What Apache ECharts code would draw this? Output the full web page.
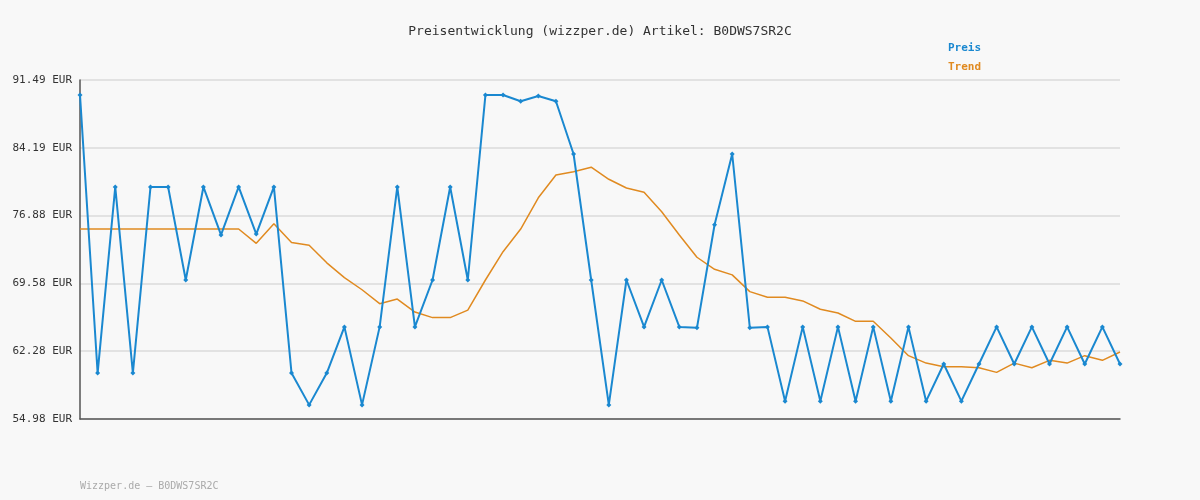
<!DOCTYPE html>
<html><head><meta charset="utf-8">
<script src="https://cdn.jsdelivr.net/npm/echarts@6/dist/echarts.min.js"></script>
<style>html,body{margin:0;padding:0;background:#f8f8f8}#c{width:1200px;height:500px}</style>
</head><body><div id="c"></div>
<script>
const categories = Array.from({length:60},(_,i)=>String(i+1));
const preis = [89.87,59.93,79.97,59.93,79.97,79.97,69.95,79.97,74.8,79.97,74.9,79.97,59.93,56.5,59.93,64.9,56.5,64.9,79.97,64.9,69.95,79.97,69.95,89.87,89.87,89.2,89.77,89.2,83.52,69.95,56.5,69.95,64.9,69.95,64.9,64.8,75.9,83.52,64.8,64.9,56.9,64.9,56.9,64.9,56.9,64.9,56.9,64.9,56.9,60.9,56.9,60.9,64.9,60.9,64.9,60.9,64.9,60.9,64.9,60.9];
const trend = [75.44,75.44,75.44,75.44,75.44,75.44,75.44,75.44,75.44,75.44,73.9,76.0,74.0,73.7,71.8,70.2,68.9,67.4,67.9,66.5,65.9,65.9,66.7,69.95,73.0,75.44,78.8,81.26,81.6,82.1,80.8,79.86,79.4,77.3,74.8,72.4,71.1,70.5,68.7,68.1,68.1,67.7,66.8,66.4,65.5,65.5,63.7,61.8,61.0,60.6,60.6,60.5,60.0,61.0,60.5,61.3,61.0,61.8,61.3,62.2];
const yTicks = ['54.98','62.28','69.58','76.88','84.19','91.49'];
const yMin = 54.98, yMax = 91.49, yStep = (yMax-yMin)/5;
const font = 'DejaVu Sans Mono';
const chart = echarts.init(document.getElementById('c'));
chart.setOption({
  backgroundColor:'#f8f8f8',
  animation:false,
  textStyle:{fontFamily:font},
  title:{text:'Preisentwicklung (wizzper.de) Artikel: B0DWS7SR2C',left:'center',top:20,
    textStyle:{fontFamily:font,fontSize:13,fontWeight:'normal',color:'#333'}},
  legend:{orient:'vertical',left:938,top:38,itemWidth:0,itemHeight:0,itemGap:8,icon:'none',
    data:[{name:'Preis',textStyle:{color:'#1a88d0'}},{name:'Trend',textStyle:{color:'#e08a20'}}],
    textStyle:{fontFamily:font,fontSize:11,fontWeight:'bold'}},
  graphic:[{type:'text',left:80,top:481,style:{text:'Wizzper.de – B0DWS7SR2C',fill:'#aaa',font:'10px "DejaVu Sans Mono"'}}],
  grid:{left:80,right:80,top:80,bottom:81},
  xAxis:{type:'category',data:categories,boundaryGap:false,
    axisLine:{lineStyle:{color:'#555',width:1.5}},axisTick:{show:false},axisLabel:{show:false},splitLine:{show:false}},
  yAxis:{type:'value',min:yMin,max:yMax,interval:yStep,
    axisLine:{show:true,lineStyle:{color:'#555',width:1.5}},axisTick:{show:false},
    splitLine:{lineStyle:{color:'#e2e2e2',width:2}},
    axisLabel:{color:'#333',fontSize:11,fontFamily:font,margin:8,
      formatter:v=>yTicks[Math.round((v-yMin)/yStep)]+' EUR'}},
  series:[
    {name:'Preis',type:'line',data:preis,color:'#1a88d0',lineStyle:{width:2},
      symbol:'diamond',symbolSize:5,itemStyle:{color:'#1a88d0'},z:3},
    {name:'Trend',type:'line',data:trend,color:'#e08a20',lineStyle:{width:1.5},showSymbol:false,z:2}
  ]
});
</script></body></html>
